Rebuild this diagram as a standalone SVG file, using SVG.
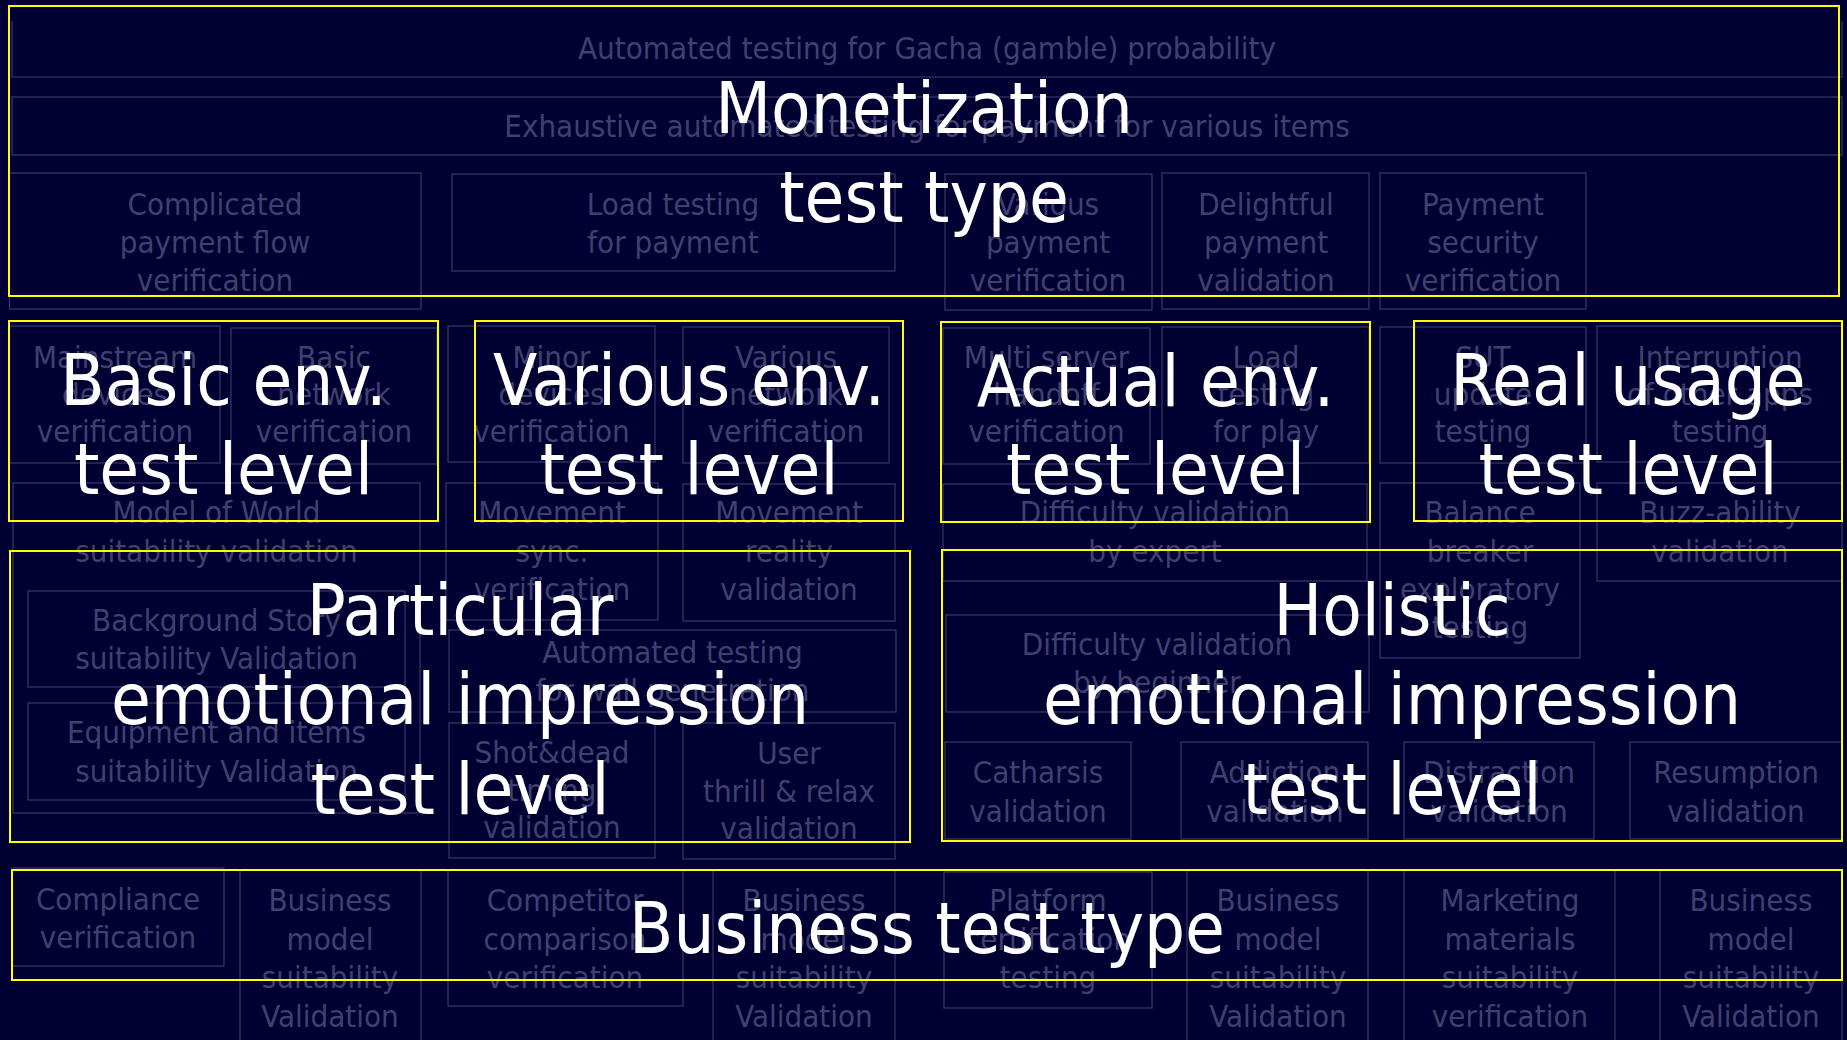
<svg xmlns="http://www.w3.org/2000/svg" width="1847" height="1040" viewBox="0 0 1847 1040">
<style>
.bg{fill:#000033}
.fb{fill:none;stroke:#3a3a68;stroke-width:1.2}
.ft{fill:#40406e;font-family:"DejaVu Sans Condensed","DejaVu Sans",sans-serif;font-stretch:condensed;font-size:31px;text-anchor:middle}
.yb{fill:none;stroke:#ffff00;stroke-width:2}
.yt{fill:#ffffff;font-family:"DejaVu Sans Condensed","DejaVu Sans",sans-serif;font-stretch:condensed;font-size:72px;text-anchor:middle}
</style>
<rect class="bg" x="0" y="0" width="1847" height="1040"/>
<g id="items">
<g id="gacha"><path class="fb" d="M12,21 V77 H1842 V21"/><text class="ft" x="927" y="59">Automated testing for Gacha (gamble) probability</text></g>
<g id="exhaustive"><rect class="fb" x="12" y="97" width="1830" height="58"/><text class="ft" x="927" y="137">Exhaustive automated testing for payment for various items</text></g>
<g id="complicated"><rect class="fb" x="9.5" y="173" width="411.5" height="136"/><text class="ft"><tspan x="215" y="215">Complicated</tspan><tspan x="215" y="253">payment flow</tspan><tspan x="215" y="291">verification</tspan></text></g>
<g id="loadpay"><rect class="fb" x="452" y="174" width="443" height="97"/><text class="ft"><tspan x="673" y="215">Load testing</tspan><tspan x="673" y="253">for payment</tspan></text></g>
<g id="variouspay"><rect class="fb" x="945" y="174" width="207" height="136"/><text class="ft"><tspan x="1048" y="215">Various</tspan><tspan x="1048" y="253">payment</tspan><tspan x="1048" y="291">verification</tspan></text></g>
<g id="delightful"><rect class="fb" x="1162" y="173" width="207" height="136"/><text class="ft"><tspan x="1266" y="215">Delightful</tspan><tspan x="1266" y="253">payment</tspan><tspan x="1266" y="291">validation</tspan></text></g>
<g id="paysec"><rect class="fb" x="1380" y="173" width="206" height="136"/><text class="ft"><tspan x="1483" y="215">Payment</tspan><tspan x="1483" y="253">security</tspan><tspan x="1483" y="291">verification</tspan></text></g>

<g id="mainstream"><rect class="fb" x="9.5" y="326" width="210.5" height="137"/><text class="ft"><tspan x="115" y="368">Mainstream</tspan><tspan x="115" y="405">devices</tspan><tspan x="115" y="442">verification</tspan></text></g>
<g id="basicnet"><rect class="fb" x="231" y="328" width="206" height="136"/><text class="ft"><tspan x="334" y="368">Basic</tspan><tspan x="334" y="405">network</tspan><tspan x="334" y="442">verification</tspan></text></g>
<g id="minordev"><rect class="fb" x="448" y="326" width="207" height="136"/><text class="ft"><tspan x="551.5" y="368">Minor</tspan><tspan x="551.5" y="405">devices</tspan><tspan x="551.5" y="442">verification</tspan></text></g>
<g id="variousnet"><rect class="fb" x="683" y="327" width="206" height="136"/><text class="ft"><tspan x="786" y="368">Various</tspan><tspan x="786" y="405">network</tspan><tspan x="786" y="442">verification</tspan></text></g>
<g id="multiserver"><rect class="fb" x="943" y="328" width="207" height="136"/><text class="ft"><tspan x="1046.5" y="368">Multi server</tspan><tspan x="1046.5" y="405">handoff</tspan><tspan x="1046.5" y="442">verification</tspan></text></g>
<g id="loadplay"><rect class="fb" x="1162" y="327" width="207" height="136"/><text class="ft"><tspan x="1266" y="368">Load</tspan><tspan x="1266" y="405">testing</tspan><tspan x="1266" y="442">for play</tspan></text></g>
<g id="sut"><rect class="fb" x="1380" y="327" width="206" height="136"/><text class="ft"><tspan x="1483" y="368">SUT</tspan><tspan x="1483" y="405">update</tspan><tspan x="1483" y="442">testing</tspan></text></g>
<g id="interruption"><rect class="fb" x="1597" y="326" width="245" height="136"/><text class="ft"><tspan x="1720" y="368">Interruption</tspan><tspan x="1720" y="405">of other apps</tspan><tspan x="1720" y="442">testing</tspan></text></g>

<g id="world"><rect class="fb" x="13" y="483" width="407" height="330"/><text class="ft"><tspan x="216.5" y="523">Model of World</tspan><tspan x="216.5" y="562">suitability validation</tspan></text></g>
<g id="story"><rect class="fb" x="28" y="591" width="377" height="96"/><text class="ft"><tspan x="216.5" y="631">Background Story</tspan><tspan x="216.5" y="669">suitability Validation</tspan></text></g>
<g id="equipment"><rect class="fb" x="28" y="703" width="377" height="97"/><text class="ft"><tspan x="216.5" y="743">Equipment and items</tspan><tspan x="216.5" y="782">suitability Validation</tspan></text></g>
<g id="movesync"><rect class="fb" x="446" y="483" width="212" height="137"/><text class="ft"><tspan x="552" y="523">Movement</tspan><tspan x="552" y="562">sync.</tspan><tspan x="552" y="600">verification</tspan></text></g>
<g id="movereal"><rect class="fb" x="683" y="484" width="212" height="137"/><text class="ft"><tspan x="789" y="523">Movement</tspan><tspan x="789" y="562">reality</tspan><tspan x="789" y="600">validation</tspan></text></g>
<g id="wall"><rect class="fb" x="449" y="630" width="447" height="82"/><text class="ft"><tspan x="672.5" y="663">Automated testing</tspan><tspan x="672.5" y="701">for wall penetration</tspan></text></g>
<g id="shot"><rect class="fb" x="449" y="723" width="206" height="135"/><text class="ft"><tspan x="552" y="763">Shot&amp;dead</tspan><tspan x="552" y="801">timing</tspan><tspan x="552" y="838">validation</tspan></text></g>
<g id="thrill"><rect class="fb" x="683" y="723" width="212" height="136"/><text class="ft"><tspan x="789" y="764">User</tspan><tspan x="789" y="802">thrill &amp; relax</tspan><tspan x="789" y="839">validation</tspan></text></g>
<g id="diffexpert"><rect class="fb" x="943" y="484" width="424" height="97"/><text class="ft"><tspan x="1155" y="523">Difficulty validation</tspan><tspan x="1155" y="562">by expert</tspan></text></g>
<g id="balance"><rect class="fb" x="1380" y="483" width="200" height="175"/><text class="ft"><tspan x="1480" y="523">Balance</tspan><tspan x="1480" y="562">breaker</tspan><tspan x="1480" y="600">exploratory</tspan><tspan x="1480" y="638">testing</tspan></text></g>
<g id="buzz"><rect class="fb" x="1597" y="483" width="245" height="98"/><text class="ft"><tspan x="1720" y="523">Buzz-ability</tspan><tspan x="1720" y="562">validation</tspan></text></g>
<g id="diffbeginner"><rect class="fb" x="946" y="615" width="423" height="97"/><text class="ft"><tspan x="1157" y="655">Difficulty validation</tspan><tspan x="1157" y="693">by beginner</tspan></text></g>
<g id="catharsis"><rect class="fb" x="945" y="742" width="186" height="97"/><text class="ft"><tspan x="1038" y="783">Catharsis</tspan><tspan x="1038" y="822">validation</tspan></text></g>
<g id="addiction"><rect class="fb" x="1181" y="742" width="187" height="97"/><text class="ft"><tspan x="1275" y="783">Addiction</tspan><tspan x="1275" y="822">validation</tspan></text></g>
<g id="distraction"><rect class="fb" x="1404" y="742" width="190" height="97"/><text class="ft"><tspan x="1499" y="783">Distraction</tspan><tspan x="1499" y="822">validation</tspan></text></g>
<g id="resumption"><rect class="fb" x="1630" y="742" width="212" height="97"/><text class="ft"><tspan x="1736" y="783">Resumption</tspan><tspan x="1736" y="822">validation</tspan></text></g>

<g id="compliance"><rect class="fb" x="12" y="868" width="212" height="98"/><text class="ft"><tspan x="118" y="910">Compliance</tspan><tspan x="118" y="948">verification</tspan></text></g>
<g id="bm1"><rect class="fb" x="240" y="870" width="181" height="180"/><text class="ft"><tspan x="330" y="911">Business</tspan><tspan x="330" y="950">model</tspan><tspan x="330" y="988">suitability</tspan><tspan x="330" y="1027">Validation</tspan></text></g>
<g id="competitor"><rect class="fb" x="448" y="870" width="235" height="136"/><text class="ft"><tspan x="565" y="911">Competitor</tspan><tspan x="565" y="950">comparison</tspan><tspan x="565" y="988">verification</tspan></text></g>
<g id="bm2"><rect class="fb" x="713" y="870" width="182" height="180"/><text class="ft"><tspan x="804" y="911">Business</tspan><tspan x="804" y="950">model</tspan><tspan x="804" y="988">suitability</tspan><tspan x="804" y="1027">Validation</tspan></text></g>
<g id="platform"><rect class="fb" x="944" y="872" width="208" height="136"/><text class="ft"><tspan x="1048" y="911">Platform</tspan><tspan x="1048" y="950">certification</tspan><tspan x="1048" y="988">testing</tspan></text></g>
<g id="bm3"><rect class="fb" x="1187" y="870" width="181" height="180"/><text class="ft"><tspan x="1278" y="911">Business</tspan><tspan x="1278" y="950">model</tspan><tspan x="1278" y="988">suitability</tspan><tspan x="1278" y="1027">Validation</tspan></text></g>
<g id="marketing"><rect class="fb" x="1404" y="870" width="211" height="180"/><text class="ft"><tspan x="1510" y="911">Marketing</tspan><tspan x="1510" y="950">materials</tspan><tspan x="1510" y="988">suitability</tspan><tspan x="1510" y="1027">verification</tspan></text></g>
<g id="bm4"><rect class="fb" x="1660" y="870" width="182" height="180"/><text class="ft"><tspan x="1751" y="911">Business</tspan><tspan x="1751" y="950">model</tspan><tspan x="1751" y="988">suitability</tspan><tspan x="1751" y="1027">Validation</tspan></text></g>
</g>

<g id="categories">
<g id="monetization"><rect class="yb" x="9" y="6" width="1830" height="290"/><text class="yt"><tspan x="924" y="133">Monetization</tspan><tspan x="924" y="222">test type</tspan></text></g>
<g id="basicenv"><rect class="yb" x="9" y="321" width="429" height="200"/><text class="yt"><tspan x="223.5" y="405">Basic env.</tspan><tspan x="223.5" y="494">test level</tspan></text></g>
<g id="variousenv"><rect class="yb" x="475" y="321" width="428" height="200"/><text class="yt"><tspan x="689" y="405">Various env.</tspan><tspan x="689" y="494">test level</tspan></text></g>
<g id="actualenv"><rect class="yb" x="941" y="322" width="429" height="200"/><text class="yt"><tspan x="1155.5" y="406">Actual env.</tspan><tspan x="1155.5" y="494">test level</tspan></text></g>
<g id="realusage"><rect class="yb" x="1414" y="321" width="428" height="200"/><text class="yt"><tspan x="1628" y="405">Real usage</tspan><tspan x="1628" y="494">test level</tspan></text></g>
<g id="particular"><rect class="yb" x="10" y="551" width="900" height="291"/><text class="yt"><tspan x="460" y="635">Particular</tspan><tspan x="460" y="724">emotional impression</tspan><tspan x="460" y="814">test level</tspan></text></g>
<g id="holistic"><rect class="yb" x="942" y="550" width="900" height="291"/><text class="yt"><tspan x="1392" y="635">Holistic</tspan><tspan x="1392" y="724">emotional impression</tspan><tspan x="1392" y="814">test level</tspan></text></g>
<g id="business"><rect class="yb" x="12" y="870" width="1830" height="110"/><text class="yt"><tspan x="927" y="953">Business test type</tspan></text></g>
</g>
</svg>
